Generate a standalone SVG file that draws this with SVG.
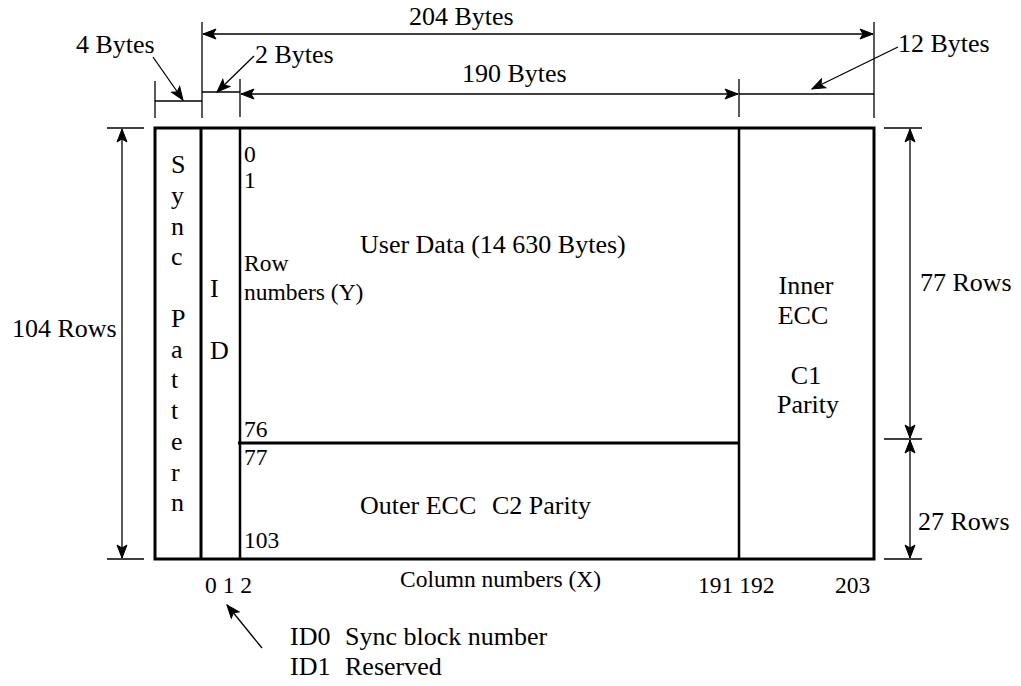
<svg xmlns="http://www.w3.org/2000/svg" width="1021" height="686" viewBox="0 0 1021 686">
<defs>
<marker id="ah" viewBox="-14 -6 15 12" markerWidth="15" markerHeight="12" refX="0" refY="0" orient="auto-start-reverse" markerUnits="userSpaceOnUse">
<path d="M-13,-5 L0,0 L-13,5 L-10,0 Z" fill="#000" stroke="#000" stroke-width="1" stroke-linejoin="miter"/>
</marker>
<style>
text{fill:#000;font-size:26px}
.s{font-size:23.5px}
.thick{stroke:#000;stroke-width:3;fill:none}
.med{stroke:#000;stroke-width:2.5;fill:none}
.dim{stroke:#000;stroke-width:1.3;fill:none}
.arr{stroke:#000;stroke-width:1.3;fill:none;marker-end:url(#ah)}
.arr2{stroke:#000;stroke-width:1.3;fill:none;marker-start:url(#ah);marker-end:url(#ah)}
</style>
</defs>
<rect width="1021" height="686" fill="#fff"/>

<g font-family="'Liberation Serif', Tinos, 'Times New Roman', 'DejaVu Serif', serif">
<g id="frame">
<rect x="155" y="128" width="719" height="431" class="thick"/>
<line x1="201" y1="128" x2="201" y2="559" class="thick"/>
<line x1="240" y1="128" x2="240" y2="559" class="med"/>
<line x1="739" y1="128" x2="739" y2="559" class="med"/>
<line x1="238" y1="443" x2="739" y2="443" class="thick"/>
</g>

<g id="sync-pattern">
<text x="171" y="173">S</text>
<text x="171" y="204">y</text>
<text x="171" y="235">n</text>
<text x="171" y="265">c</text>
<text x="171" y="327">P</text>
<text x="171" y="358">a</text>
<text x="171" y="388">t</text>
<text x="171" y="419">t</text>
<text x="171" y="450">e</text>
<text x="171" y="481">r</text>
<text x="171" y="511">n</text>
</g>

<g id="id-field">
<text x="210" y="297">I</text>
<text x="210" y="359">D</text>
</g>

<g id="user-data">
<text x="360" y="253">User Data (14 630 Bytes)</text>
<text class="s" x="244" y="162">0</text>
<text class="s" x="244" y="188">1</text>
<text class="s" x="244" y="271">Row</text>
<text class="s" x="244" y="300">numbers (Y)</text>
<text class="s" x="244" y="437">76</text>
</g>

<g id="outer-ecc">
<text x="360" y="514">Outer ECC</text>
<text x="492" y="514">C2 Parity</text>
<text class="s" x="244" y="465">77</text>
<text class="s" x="244" y="548">103</text>
</g>

<g id="inner-ecc">
<text x="806" y="294" text-anchor="middle">Inner</text>
<text x="803" y="324" text-anchor="middle">ECC</text>
<text x="806" y="384" text-anchor="middle">C1</text>
<text x="808" y="413" text-anchor="middle">Parity</text>
</g>

<g id="column-numbers">
<text class="s" x="205" y="593">0 1 2</text>
<text class="s" x="400" y="587">Column numbers (X)</text>
<text class="s" x="698" y="593">191 192</text>
<text class="s" x="835" y="593">203</text>
</g>

<g id="id-legend">
<text x="290" y="645">ID0</text>
<text x="345" y="645">Sync block number</text>
<text x="290" y="675">ID1</text>
<text x="345" y="675">Reserved</text>
</g>

<g id="dimension-labels">
<text x="409" y="25">204 Bytes</text>
<text x="462" y="82">190 Bytes</text>
<text x="76" y="53">4 Bytes</text>
<text x="255" y="63">2 Bytes</text>
<text x="898" y="52">12 Bytes</text>
<text x="12" y="337">104 Rows</text>
<text x="920" y="291">77 Rows</text>
<text x="918" y="530">27 Rows</text>
</g>
</g>

<g id="connectors">
<line x1="202" y1="22" x2="202" y2="118" class="dim"/>
<line x1="874" y1="22" x2="874" y2="118" class="dim"/>
<line x1="155" y1="81" x2="155" y2="118" class="dim"/>
<line x1="240" y1="79" x2="240" y2="117" class="dim"/>
<line x1="739" y1="79" x2="739" y2="117" class="dim"/>
<line x1="203" y1="34" x2="873" y2="34" class="arr2"/>
<line x1="241" y1="94" x2="738" y2="94" class="arr2"/>
<line x1="155" y1="101" x2="202" y2="101" class="dim"/>
<line x1="202" y1="92" x2="240" y2="92" class="dim"/>
<line x1="739" y1="94" x2="874" y2="94" class="dim"/>
<line x1="153" y1="57" x2="183" y2="100" class="arr"/>
<line x1="254" y1="56" x2="217" y2="92" class="arr"/>
<line x1="898" y1="47" x2="812" y2="89" class="arr"/>
<line x1="262" y1="648" x2="227" y2="605" class="arr"/>
<line x1="107" y1="128" x2="144" y2="128" class="dim"/>
<line x1="107" y1="559" x2="144" y2="559" class="dim"/>
<line x1="122" y1="129" x2="122" y2="558" class="arr2"/>
<line x1="884" y1="128" x2="922" y2="128" class="dim"/>
<line x1="884" y1="439" x2="922" y2="439" class="dim"/>
<line x1="884" y1="559" x2="922" y2="559" class="dim"/>
<line x1="910" y1="129" x2="910" y2="438" class="arr2"/>
<line x1="910" y1="440" x2="910" y2="558" class="arr2"/>
</g>
</svg>
